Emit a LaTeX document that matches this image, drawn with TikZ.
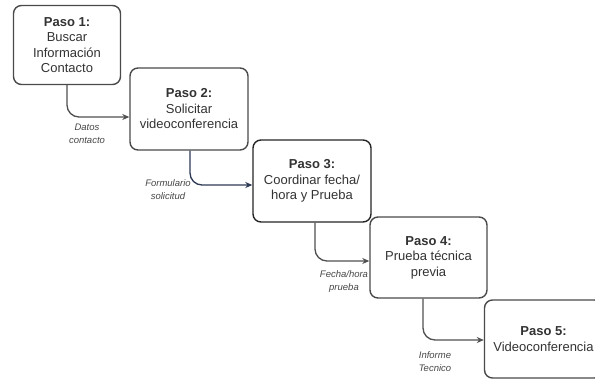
\documentclass[tikz,border=0pt]{standalone}
\usepackage{fontspec}
\setmainfont{Liberation Sans}
\usetikzlibrary{arrows.meta,calc}
\definecolor{boxline}{HTML}{4A4A4A}
\definecolor{txt}{HTML}{333333}
\definecolor{arr}{HTML}{505050}
\definecolor{navyarr}{HTML}{2E3A55}
\tikzset{
  stepbox/.style={draw=boxline, line width=1.4pt, rounded corners=8pt, align=center,
    text=txt, font=\fontsize{13}{15.5}\selectfont, inner sep=2pt},
  flow/.style={draw=arr, line width=1.3pt, rounded corners=12pt, -{Stealth[length=7pt,width=6pt]}},
  lbl/.style={align=center, text=txt!90, font=\fontsize{9.5}{13}\selectfont\itshape, inner sep=0pt}
}
\begin{document}
\begin{tikzpicture}[x=1pt,y=-1pt]
\useasboundingbox (0,0) rectangle (595,381);
\clip (0,0) rectangle (595,381);
\fill[white] (0,0) rectangle (595,381);
\node[stepbox, minimum width=107pt, minimum height=79pt] (b1) at (67,45)
  {\textbf{Paso 1:}\\Buscar\\Información\\Contacto};
\node[stepbox, minimum width=118pt, minimum height=82pt] (b2) at (189,109)
  {\textbf{Paso 2:}\\Solicitar\\videoconferencia};
\node[stepbox, draw=black!85, minimum width=118pt, minimum height=82pt] (b3) at (312,181)
  {\textbf{Paso 3:}\\Coordinar fecha/\\hora y Prueba};
\node[stepbox, minimum width=117pt, minimum height=81pt] (b4) at (428.5,257.5)
  {\textbf{Paso 4:}\\Prueba técnica\\previa};
\node[stepbox, minimum width=118pt, minimum height=78pt, inner sep=0pt] (b5) at (543.5,339)
  {\textbf{Paso 5:}\\Videoconferencia};
\draw[flow] (b1.south) |- ([yshift=-8pt]b2.west);
\draw[flow, draw=navyarr] ([xshift=1pt]b2.south) |- ([yshift=-4pt]b3.west);
\draw[flow] ([xshift=3pt]b3.south) |- ([yshift=-3.5pt]b4.west);
\draw[flow] ([xshift=-5.5pt]b4.south) |- ([yshift=-1pt]b5.west);
\node[lbl] (l1) at (87,133.5) {Datos\\contacto};
\node[lbl] (l2) at (168,190) {Formulario\\solicitud};
\node[lbl] (l3) at (344,282) {Fecha/hora\\prueba};
\node[lbl] (l4) at (435,361.5) {Informe\\Tecnico};
\end{tikzpicture}
\end{document}
